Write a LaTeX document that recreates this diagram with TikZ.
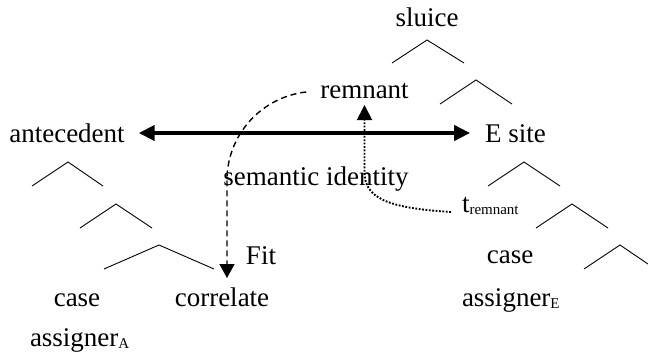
\documentclass[tikz,border=0pt]{standalone}
\usepackage{fontspec}
\setmainfont{Liberation Serif}
\usetikzlibrary{arrows.meta}
\newcommand\smallsub[1]{\raisebox{-2pt}{\fontsize{15}{15}\selectfont #1}}
\begin{document}
\begin{tikzpicture}[x=1pt,y=-1pt,
  lbl/.style={inner sep=0pt, outer sep=0pt, anchor=base, font=\fontsize{27}{30}\selectfont},
  branch/.style={line width=0.9pt},
  identity/.style={line width=4pt, {Triangle[length=16pt,width=15pt]}-{Triangle[length=16pt,width=15pt]}},
  fitarrow/.style={line width=1.4pt, dash pattern=on 6pt off 4pt, -{Triangle[length=14pt,width=15pt]}},
  movearrow/.style={line width=1.9pt, dash pattern=on 1.8pt off 1.6pt, -{Triangle[length=15pt,width=15pt]}}
]
\useasboundingbox (0,0) rectangle (648,353);

% labels
\node[lbl] (sluice) at (427,27) {sluice};
\node[lbl] (rem) at (364.5,99) {remnant};
\node[lbl] (ante) at (67,142) {antecedent};
\node[lbl] (esite) at (515.5,142) {E site};
\node[lbl] (sem) at (316,185) {semantic identity};
\node[lbl, anchor=base west] (trem) at (462,212) {t\smallsub{remnant}};
\node[lbl] (fit) at (261,264) {Fit};
\node[lbl] (caseE) at (510,263) {case};
\node[lbl, anchor=base west] (assE) at (462,306) {assigner\smallsub{E}};
\node[lbl] (caseA) at (77,306) {case};
\node[lbl] (corr) at (222,306) {correlate};
\node[lbl, anchor=base west] (assA) at (30,346) {assigner\smallsub{A}};

% tree branches
\draw[branch] (392,63) -- (427,40) -- (464,63);
\draw[branch] (440,104) -- (476,80) -- (512,104);
\draw[branch] (32,186) -- (68,162) -- (103,186);
\draw[branch] (80,228) -- (116,204) -- (152,228);
\draw[branch] (104,269) -- (159,245) -- (214,269);
\draw[branch] (488,186) -- (524,162) -- (560,186);
\draw[branch] (536,228) -- (572,204) -- (608,228);
\draw[branch] (584,269) -- (620,245) -- (648,264);

% semantic identity arrow
\draw[identity] ([xshift=14pt,yshift=9pt]ante.base east) -- ([xshift=-15pt,yshift=9pt]esite.base west);

% Fit arrow (dashed)
\draw[fitarrow] ([xshift=-14pt,yshift=7pt]rem.base west)
  .. controls +(-45,5) and +(0,-45) .. ([xshift=5pt,yshift=126pt]corr.base)
  -- ([xshift=5pt,yshift=28pt]corr.base);

% movement arrow (dotted)
\draw[movearrow] ([xshift=-11pt]trem.base west)
  .. controls +(-66,-4) and +(0,25) .. ([yshift=-73pt]rem.base)
  -- ([yshift=-6pt]rem.base);
\end{tikzpicture}
\end{document}
